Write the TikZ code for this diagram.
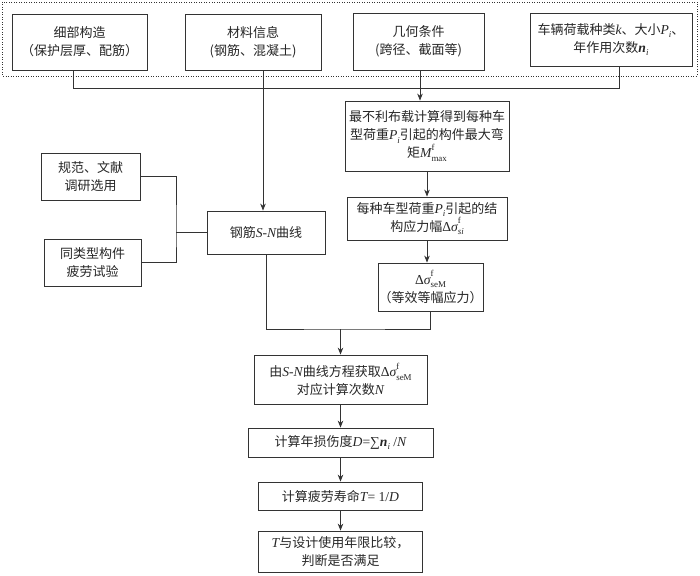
\documentclass[tikz,border=0pt]{standalone}
\usepackage{fontspec}
\setmainfont{Noto Sans CJK SC}
\newfontfamily\tms{Liberation Serif}[Scale=1.05]
\usetikzlibrary{arrows.meta,calc}
\newcommand{\lt}[1]{{\tms\itshape #1}}
\newcommand{\ltb}[1]{{\tms\itshape\bfseries #1}}
\newcommand{\smallf}{\tms\fontsize{8.5}{8.5}\selectfont}
\newcommand{\mysub}[1]{\raisebox{-0.28em}{\smallf #1}}
\newcommand{\mysupsub}[2]{\makebox[0pt][l]{\raisebox{0.55em}{\smallf #1}}\raisebox{-0.28em}{\smallf #2}}
\newcommand{\dsig}{{\tms Δ}\lt{σ}}
\begin{document}
\begin{tikzpicture}[x=1pt,y=-1pt,
  box/.style={draw=black!80, line width=0.8pt, inner sep=0pt, align=center,
    font=\fontsize{13}{18}\selectfont, text=black!85},
  ln/.style={draw=black!80, line width=0.8pt},
  arr/.style={ln, -{Stealth[length=7pt,width=5.5pt]}}]
\useasboundingbox (0,0) rectangle (700,575);
\draw[ln, dash pattern=on 1pt off 1.5pt] (2,2) rectangle (697,76);
% top boxes
\node[box, minimum width=135, minimum height=56] (b1) at (79.5,42) {细部构造\\（保护层厚、配筋）};
\node[box, minimum width=136, minimum height=56] (b2) at (253,42) {材料信息\\(钢筋、混凝土)};
\node[box, minimum width=131, minimum height=57] (b3) at (418.5,41.5) {几何条件\\(跨径、截面等)};
\node[box, minimum width=162, minimum height=53] (b4) at (611,39.5) {车辆荷载种类\lt{k}、大小\lt{P}\mysub{\itshape i}、\\年作用次数\ltb{n}\mysub{\itshape i}};
% left
\node[box, minimum width=99, minimum height=47] (gf) at (90.5,176.5) {规范、文献\\调研选用};
\node[box, minimum width=97, minimum height=47] (tl) at (92.5,262.5) {同类型构件\\疲劳试验};
\node[box, minimum width=118, minimum height=43] (sn) at (266,232.5) {钢筋\lt{S}{\tms -}\lt{N}曲线};
% right column
\node[box, minimum width=164, minimum height=70] (m) at (427,136) {最不利布载计算得到每种车\\型荷重\lt{P}\mysub{\itshape i}引起的构件最大弯\\矩\lt{M}\mysupsub{f}{max}};
\node[box, minimum width=160, minimum height=43] (s) at (427,218.5) {每种车型荷重\lt{P}\mysub{\itshape i}引起的结\\构应力幅\dsig\mysupsub{f}{\itshape si}};
\node[box, minimum width=105, minimum height=48] (e) at (430.5,287) {\dsig\mysupsub{f}{seM}\\（等效等幅应力）};
% lower column
\node[box, minimum width=173, minimum height=49] (n) at (340.5,379.5) {由\lt{S}{\tms -}\lt{N}曲线方程获取\dsig\mysupsub{f}{seM}\\对应计算次数\lt{N}};
\node[box, minimum width=185, minimum height=29] (d) at (340.5,442.5) {计算年损伤度\lt{D}{\tms =∑}\ltb{n}\mysub{\itshape i}{\tms\ /}\lt{N}};
\node[box, minimum width=164, minimum height=28] (t) at (340.5,496) {计算疲劳寿命\lt{T}{\tms = 1/}\lt{D}};
\node[box, minimum width=164, minimum height=41] (c) at (340.5,551.5) {\lt{T}与设计使用年限比较，\\判断是否满足};
% connectors top
\coordinate (h1) at (73,88);
\coordinate (h4) at (619,88);
\coordinate (v2) at (263,88);
\coordinate (v3) at (420,88);
\draw[ln] (b1.south -| h1) |- (h4) -- (b4.south -| h4);
\draw[arr] (b2.south -| v2) -- (sn.north -| v2);
\draw[arr] (b3.south -| v3) -- (m.north -| v3);
\draw[arr] (m) -- (s);
\draw[arr] (s) -- (s.south |- e.north);
% bracket
\coordinate (bx) at (176,232.5);
\draw[ln] (gf.east) -| (bx) |- (tl.east);
\draw[ln] (bx) -- (sn.west);
% merge
\coordinate (mg) at (340.5,329);
\draw[ln] (sn.south) |- (mg) -| (e.south);
\draw[arr] (mg) -- (n.north);
\draw[arr] (n) -- (d);
\draw[arr] (d) -- (t);
\draw[arr] (t) -- (c);
\end{tikzpicture}
\end{document}
